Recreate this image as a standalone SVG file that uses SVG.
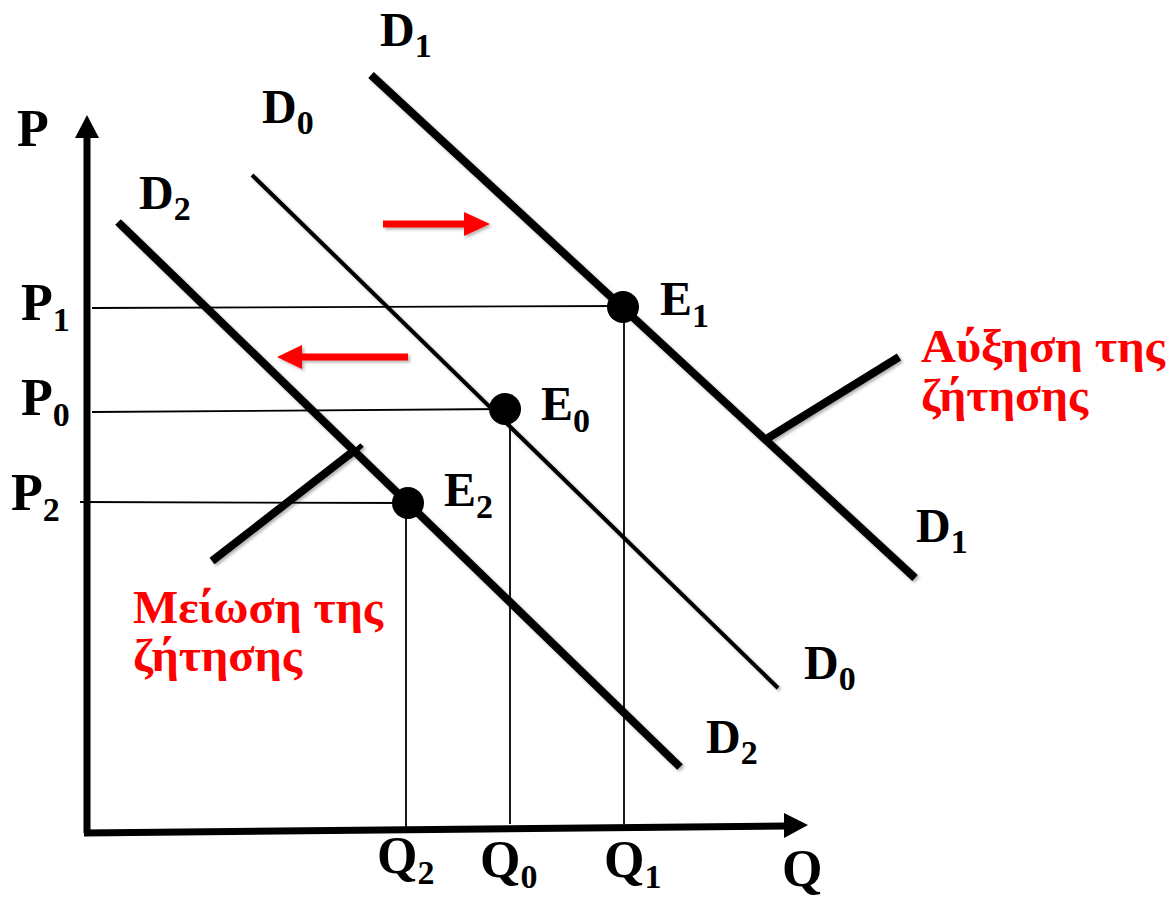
<svg xmlns="http://www.w3.org/2000/svg" width="1169" height="900" viewBox="0 0 1169 900">
<defs>
<filter id="sh" x="-10%" y="-10%" width="120%" height="120%"><feDropShadow dx="2" dy="2" stdDeviation="1.5" flood-color="#000" flood-opacity="0.3"/></filter>
</defs>
<style>
.lbl{font-family:"Liberation Serif","Times New Roman",serif;font-weight:bold;fill:#000}
.big{font-size:48px}
.pq{font-size:52px}
.sub{font-size:34px}
.red{font-family:"Liberation Serif","Times New Roman",serif;font-weight:bold;font-size:47px;fill:#f00}
.thick{stroke:#000;stroke-width:8;fill:none}
.thin{stroke:#000;stroke-width:4;fill:none}
.guide{stroke:#000;stroke-width:1.8;fill:none}
.axis{stroke:#000;stroke-width:7;fill:none}
.dot{fill:#000}
.rarrow{stroke:#f00;stroke-width:7;fill:none}
.rhead{fill:#f00}
</style>
<rect width="1169" height="900" fill="#fff"/>
<g id="connectors">
<path class="axis" d="M87,833 L87,134"/>
<polygon points="87,115 99,138 75,138" fill="#000"/>
<path class="axis" d="M84,833 L786,826"/>
<polygon points="808,825 784,813 784,838" fill="#000"/>
<path class="guide" d="M92,308 L623,306"/>
<path class="guide" d="M92,412 L505,409"/>
<path class="guide" d="M80,502 L408,503"/>
<path class="guide" d="M406,503 L406,828"/>
<path class="guide" d="M510,409 L510,824"/>
<path class="guide" d="M624,306 L624,824"/>
<g filter="url(#sh)">
<path class="thick" d="M371,75 L915,578"/>
<path class="thin" d="M252,175 L778,688"/>
<path class="thick" d="M118,222 L680,767"/>
<path class="thick" d="M768,438 L899,357"/>
<path class="thick" d="M212,561 L355,450"/>
<path class="thick" d="M349,457 L362,445" style="stroke-width:5"/>
<path class="rarrow" d="M383,224 L466,224"/>
<polygon class="rhead" points="490,224 464,212 464,236"/>
<path class="rarrow" d="M408,357 L300,357"/>
<polygon class="rhead" points="277,357 302,345 302,369"/>
</g>
</g>
<g id="E1"><circle class="dot" cx="623" cy="307" r="16"/><text class="lbl big" x="660" y="315">E<tspan class="sub" dy="12">1</tspan></text></g>
<g id="E0"><circle class="dot" cx="505" cy="409" r="16"/><text class="lbl big" x="541" y="420">E<tspan class="sub" dy="12">0</tspan></text></g>
<g id="E2"><circle class="dot" cx="408" cy="503" r="16"/><text class="lbl big" x="444" y="506">E<tspan class="sub" dy="12">2</tspan></text></g>
<g id="labels">
<text class="lbl pq" x="17" y="146">P</text>
<text class="lbl pq" x="782" y="886">Q</text>
<text class="lbl big" x="380" y="46">D<tspan class="sub" dy="11">1</tspan></text>
<text class="lbl big" x="262" y="123">D<tspan class="sub" dy="11">0</tspan></text>
<text class="lbl big" x="139" y="209">D<tspan class="sub" dy="11">2</tspan></text>
<text class="lbl big" x="916" y="542">D<tspan class="sub" dy="11">1</tspan></text>
<text class="lbl big" x="804" y="679">D<tspan class="sub" dy="11">0</tspan></text>
<text class="lbl big" x="706" y="753">D<tspan class="sub" dy="11">2</tspan></text>
<text class="lbl pq" x="21" y="320">P<tspan class="sub" dy="11">1</tspan></text>
<text class="lbl pq" x="21" y="415">P<tspan class="sub" dy="11">0</tspan></text>
<text class="lbl pq" x="11" y="510">P<tspan class="sub" dy="11">2</tspan></text>
<text class="lbl pq" x="377" y="873">Q<tspan class="sub" dy="11">2</tspan></text>
<text class="lbl pq" x="480" y="877">Q<tspan class="sub" dy="11">0</tspan></text>
<text class="lbl pq" x="604" y="877">Q<tspan class="sub" dy="11">1</tspan></text>
</g>
<g id="increase">
<text class="red" x="921" y="362" textLength="244" lengthAdjust="spacingAndGlyphs">Αύξηση της</text>
<text class="red" x="921" y="411" textLength="167" lengthAdjust="spacingAndGlyphs">ζήτησης</text>
</g>
<g id="decrease">
<text class="red" x="133" y="623" textLength="250" lengthAdjust="spacingAndGlyphs">Μείωση της</text>
<text class="red" x="133" y="671" textLength="169" lengthAdjust="spacingAndGlyphs">ζήτησης</text>
</g>
</svg>
